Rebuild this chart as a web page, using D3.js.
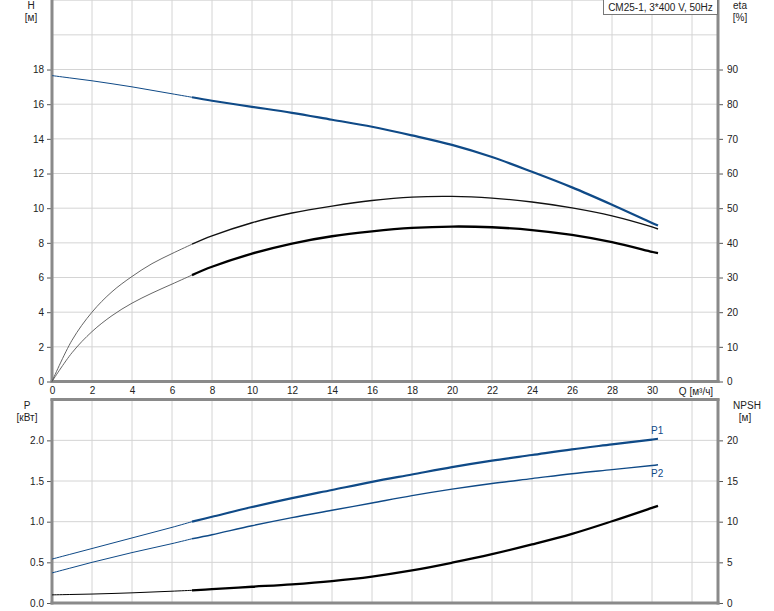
<!DOCTYPE html>
<html><head><meta charset="utf-8">
<script src="https://cdn.jsdelivr.net/npm/d3@7"></script>
<style>
body{margin:0;background:#fff;}
svg text{font-family:"Liberation Sans",Arial,sans-serif;font-size:10px;fill:#222;}
</style></head>
<body><svg id="c" width="774" height="611"></svg>
<script>
const Q     = [0,1,2,3,4,5,6,7,8,10,12,14,16,18,20,22,24,26,28,30,30.3];
const H     = [17.65,17.5,17.35,17.18,17.0,16.8,16.6,16.4,16.2,15.85,15.5,15.1,14.7,14.2,13.65,12.95,12.1,11.2,10.2,9.15,9.0];
const ETA1  = [0,11.9,20,25.9,30.3,34,36.9,39.6,42,45.8,48.6,50.6,52.2,53.2,53.4,52.9,51.8,50.1,47.8,44.6,44];
const ETA2  = [0,8.3,14.4,19,22.6,25.5,28.1,30.7,33.1,36.9,39.8,41.9,43.3,44.3,44.7,44.5,43.7,42.3,40.2,37.4,37];
const P1    = [0.54,0.605,0.67,0.735,0.80,0.865,0.93,1.0,1.06,1.18,1.29,1.39,1.49,1.58,1.67,1.75,1.82,1.89,1.95,2.01,2.02];
const P2    = [0.37,0.435,0.5,0.56,0.62,0.675,0.73,0.79,0.84,0.95,1.05,1.14,1.23,1.32,1.40,1.47,1.53,1.59,1.64,1.69,1.70];
const NPSH  = [1.0,1.05,1.1,1.17,1.25,1.35,1.45,1.56,1.7,2.0,2.3,2.7,3.25,4.0,4.95,6.0,7.2,8.5,10.05,11.7,11.95];
const qTicks = [0,2,4,6,8,10,12,14,16,18,20,22,24,26,28,30];
const qGrid  = [2,4,6,8,10,12,14,16,18,20,22,24,26,28,30,32];
const hTicks = [0,2,4,6,8,10,12,14,16,18];
const hGrid  = [2,4,6,8,10,12,14,16,18,20,22];
const etaTicks = [0,10,20,30,40,50,60,70,80,90];
const pTicks = [0,0.5,1.0,1.5,2.0];
const npshTicks = [0,5,10,15,20];
const Q_SPLIT = 7;
const title = "CM25-1, 3*400 V, 50Hz";

const svg = d3.select("#c");
const L = 52, R = 718;
const x = d3.scaleLinear().domain([0,33.3]).range([L,R]);
const yH = d3.scaleLinear().domain([0,22]).range([381.5,0.2]);
const yEta = d3.scaleLinear().domain([0,110]).range([381.5,0.2]);
const yP = d3.scaleLinear().domain([0,2.5]).range([603,399.7]);
const yN = d3.scaleLinear().domain([0,25]).range([603,399.7]);
const BLUE = "#0f4a87", GRID = "#d4d4d4", AX = "#8a8a8a";

// grids
const g = svg.append("g");
qGrid.forEach(q=>{
  g.append("line").attr("x1",x(q)).attr("x2",x(q)).attr("y1",0).attr("y2",381.5).attr("stroke",GRID);
  g.append("line").attr("x1",x(q)).attr("x2",x(q)).attr("y1",399.7).attr("y2",603).attr("stroke",GRID);
});
hGrid.forEach(h=>g.append("line").attr("x1",L).attr("x2",R).attr("y1",yH(h)).attr("y2",yH(h)).attr("stroke",GRID));
[0.5,1.0,1.5,2.0].forEach(p=>g.append("line").attr("x1",L).attr("x2",R).attr("y1",yP(p)).attr("y2",yP(p)).attr("stroke",GRID));

// axes
function ax(axis, tx){
  const a = svg.append("g").attr("transform",tx).call(axis);
  a.select(".domain").remove();
  a.selectAll(".tick line").attr("stroke","#555");
  a.selectAll("text").attr("fill","#222").style("font-size","10px").attr("font-family","Liberation Sans, Arial, sans-serif");
  return a;
}
ax(d3.axisLeft(yH).tickValues(hTicks).tickSize(5).tickPadding(3).tickFormat(d3.format("d")),`translate(${L},0)`);
ax(d3.axisRight(yEta).tickValues(etaTicks).tickSize(5).tickPadding(4).tickFormat(d3.format("d")),`translate(${R},0)`);
ax(d3.axisBottom(x).tickValues(qTicks).tickSize(0).tickPadding(5).tickFormat(d3.format("d")),`translate(0,381.5)`);
ax(d3.axisLeft(yP).tickValues(pTicks).tickSize(5).tickPadding(3).tickFormat(d3.format(".1f")),`translate(${L},0)`);
ax(d3.axisRight(yN).tickValues(npshTicks).tickSize(5).tickPadding(4).tickFormat(d3.format("d")),`translate(${R},0)`);

// thick axis lines
const axl=(x1,y1,x2,y2)=>svg.append("line").attr("x1",x1).attr("y1",y1).attr("x2",x2).attr("y2",y2).attr("stroke",AX).attr("stroke-width",3);
axl(L,0,L,383); axl(R,0,R,383); axl(L-1.5,381.5,R+1.5,381.5);
axl(L,398.5,L,604.5); axl(R,398.5,R,604.5); axl(L-1.5,399.5,R+1.5,399.5); axl(L-1.5,603,R+1.5,603);

// curves
function drawCurve(vals, ys, color, wThin, wThick, thinColor){
  const pts = Q.map((q,i)=>[q,vals[i]]);
  const line = d3.line().x(d=>x(d[0])).y(d=>ys(d[1])).curve(d3.curveCatmullRom.alpha(0.5));
  svg.append("path").attr("d",line(pts.filter(d=>d[0]<=Q_SPLIT))).attr("fill","none").attr("stroke",thinColor||color).attr("stroke-width",wThin);
  svg.append("path").attr("d",line(pts.filter(d=>d[0]>=Q_SPLIT))).attr("fill","none").attr("stroke",color).attr("stroke-width",wThick);
}
drawCurve(H, yH, BLUE, 1, 2.2);
drawCurve(ETA1, yEta, "#111", 0.9, 1.4, "#555");
drawCurve(ETA2, yEta, "#000", 0.9, 2.3, "#555");
drawCurve(P1, yP, BLUE, 1, 2.2);
drawCurve(P2, yP, BLUE, 1, 1.4);
drawCurve(NPSH, yN, "#000", 1, 2.3);

// curve labels
svg.append("text").attr("x",x(30.3)-7).attr("y",yP(P1[P1.length-1])-5).text("P1").style("fill",BLUE);
svg.append("text").attr("x",x(30.3)-7).attr("y",yP(P2[P2.length-1])+12).text("P2").style("fill",BLUE);

// axis titles
const t=(xx,yy,s,anc)=>svg.append("text").attr("x",xx).attr("y",yy).attr("text-anchor",anc||"middle").text(s);
t(31,9,"H"); t(31,21,"[м]");
t(740,9,"eta"); t(740,21,"[%]");
t(27,409,"P"); t(27,421,"[кВт]");
t(747,409,"NPSH"); t(745,421,"[м]");
t(x(32)+4,394.5,"Q [м³/ч]");

// title box
svg.append("rect").attr("x",603.5).attr("y",-1).attr("width",114).attr("height",15.5).attr("fill","#fff").attr("stroke","#777");
t(660.5,10.5,title);
</script></body></html>
